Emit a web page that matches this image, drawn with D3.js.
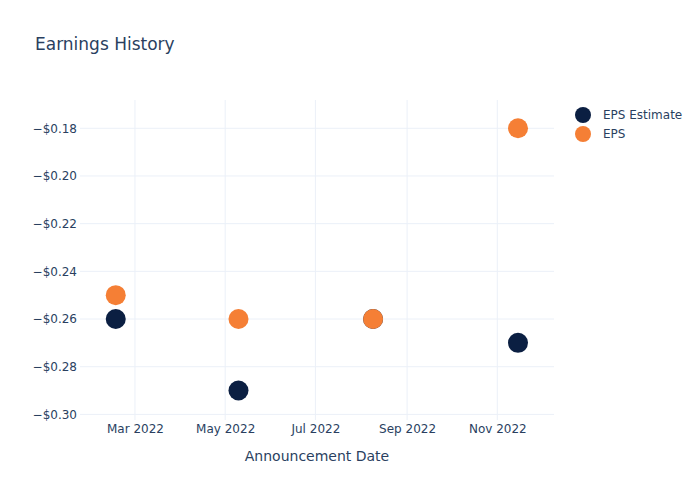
<!DOCTYPE html>
<html>
<head>
<meta charset="utf-8">
<script src="https://cdn.jsdelivr.net/npm/d3@7/dist/d3.min.js"></script>
<style>
  body { margin: 0; background: #fff; }
  text { font-family: "DejaVu Sans", Verdana, sans-serif; }
</style>
</head>
<body>
<svg id="chart" width="700" height="500"></svg>
<script>
const dates = ["2022-02-16", "2022-05-10", "2022-08-09", "2022-11-15"];
const epsEstimate = [-0.26, -0.29, -0.26, -0.27];
const eps = [-0.25, -0.26, -0.26, -0.18];
const yTicks = [-0.30, -0.28, -0.26, -0.24, -0.22, -0.20, -0.18];
const seriesNames = ["EPS Estimate", "EPS"];
const seriesColors = ["#0b1f42", "#f57f35"];

const W = 700, H = 500;
const m = { l: 80, r: 146, t: 100, b: 80 };
const svg = d3.select("#chart");
const textColor = "#2a3f5f";
const gridColor = "#ebf0f8";

const parse = d3.utcParse("%Y-%m-%d");
const xDates = dates.map(parse);

const x = d3.scaleUtc()
  .domain([new Date(Date.UTC(2022, 0, 22, 20)), new Date(Date.UTC(2022, 11, 9, 8))])
  .range([m.l, W - m.r]);
const y = d3.scaleLinear()
  .domain([-0.30235, -0.16814])
  .range([H - m.b, m.t]);

// grid
const xTicks = x.ticks(d3.utcMonth.every(2));
svg.append("g").selectAll("line").data(xTicks).join("line")
  .attr("x1", d => x(d)).attr("x2", d => x(d))
  .attr("y1", m.t).attr("y2", H - m.b)
  .attr("stroke", gridColor).attr("stroke-width", 1);
svg.append("g").selectAll("line").data(yTicks).join("line")
  .attr("x1", m.l).attr("x2", W - m.r)
  .attr("y1", d => y(d)).attr("y2", d => y(d))
  .attr("stroke", gridColor).attr("stroke-width", 1);

// axes
const fmtY = v => "\u2212$" + Math.abs(v).toFixed(2);
const yAxis = svg.append("g")
  .attr("transform", `translate(${m.l},0)`)
  .call(d3.axisLeft(y).tickValues(yTicks).tickFormat(fmtY).tickSize(0).tickPadding(3));
yAxis.select(".domain").remove();
yAxis.selectAll("text").attr("fill", textColor).style("font-size", "12px");

const xAxis = svg.append("g")
  .attr("transform", `translate(0,${H - m.b})`)
  .call(d3.axisBottom(x).tickValues(xTicks).tickFormat(d3.utcFormat("%b %Y")).tickSize(0).tickPadding(4));
xAxis.select(".domain").remove();
xAxis.selectAll("text").attr("fill", textColor).style("font-size", "12px");

// axis title
svg.append("text")
  .attr("x", (m.l + W - m.r) / 2).attr("y", 461)
  .attr("text-anchor", "middle").attr("fill", textColor)
  .style("font-size", "14px").text("Announcement Date");

// title
svg.append("text")
  .attr("x", 35).attr("y", 50)
  .attr("fill", textColor).style("font-size", "17px")
  .text("Earnings History");

// points
const series = [epsEstimate, eps];
series.forEach((vals, i) => {
  svg.append("g").selectAll("circle").data(vals).join("circle")
    .attr("cx", (d, j) => x(xDates[j]))
    .attr("cy", d => y(d))
    .attr("r", 10)
    .attr("fill", seriesColors[i]);
});

// legend
const leg = svg.append("g");
seriesNames.forEach((name, i) => {
  const gy = 115 + i * 19;
  leg.append("circle").attr("cx", 583).attr("cy", gy).attr("r", 8).attr("fill", seriesColors[i]);
  leg.append("text").attr("x", 603).attr("y", gy + 4)
    .attr("fill", textColor).style("font-size", "12px").text(name);
});
</script>
</body>
</html>
